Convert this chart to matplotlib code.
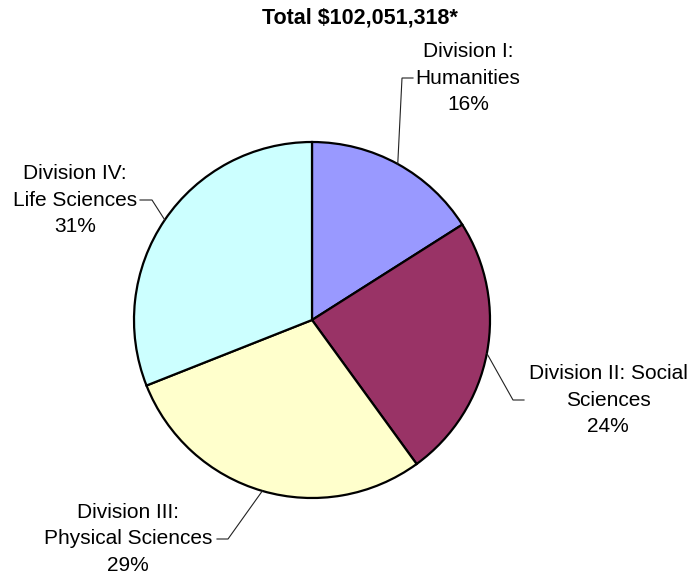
import numpy as np
import matplotlib
matplotlib.use('Agg')
import matplotlib.pyplot as plt

# data
divisions = ['Division I:\nHumanities', 'Division II: Social\nSciences',
             'Division III:\nPhysical Sciences', 'Division IV:\nLife Sciences']
shares = [16, 24, 29, 31]
colors = ['#9999FF', '#993366', '#FFFFCC', '#CCFFFF']
title = 'Total $102,051,318*'

W, H = 692, 577
plt.rcParams['font.family'] = ['Liberation Sans', 'DejaVu Sans']

fig = plt.figure(figsize=(W / 100, H / 100), dpi=100)
ax = fig.add_axes([0, 0, 1, 1])

cx, cy, r = 312, H - 320, 178
wedges, _ = ax.pie(shares, colors=colors, startangle=90, counterclock=False,
                   center=(cx, cy), radius=r,
                   wedgeprops=dict(edgecolor='black', linewidth=1.6))
ax.set_xlim(0, W)
ax.set_ylim(0, H)
ax.set_aspect('equal')
ax.axis('off')

# label centre, leader elbow, leader end (pixel positions, y from top)
label_pos = [(468, 78), (608, 400), (128, 539), (75, 200)]
elbows = [(402, 78), (513, 400), (228, 539), (152, 200)]
ends = [(413, 78), (524, 400), (217, 539), (140, 200)]

for w, lab, p, (lx, ly), (ex, ey), (tx, ty) in zip(wedges, divisions, shares,
                                                   label_pos, elbows, ends):
    th = np.deg2rad((w.theta1 + w.theta2) / 2)
    sx, sy = cx + r * np.cos(th), cy + r * np.sin(th)
    ax.plot([sx, ex, tx], [sy, H - ey, H - ty], color='#222222', lw=0.8,
            solid_joinstyle='miter')
    ax.text(lx, H - ly, f'{lab}\n{p}%', ha='center', va='center',
            multialignment='center', fontsize=15, linespacing=1.48)

ax.text(360, H - 18, title, ha='center', va='center', fontsize=15.5,
        fontweight='bold')

fig.savefig('out.png', dpi=100)
